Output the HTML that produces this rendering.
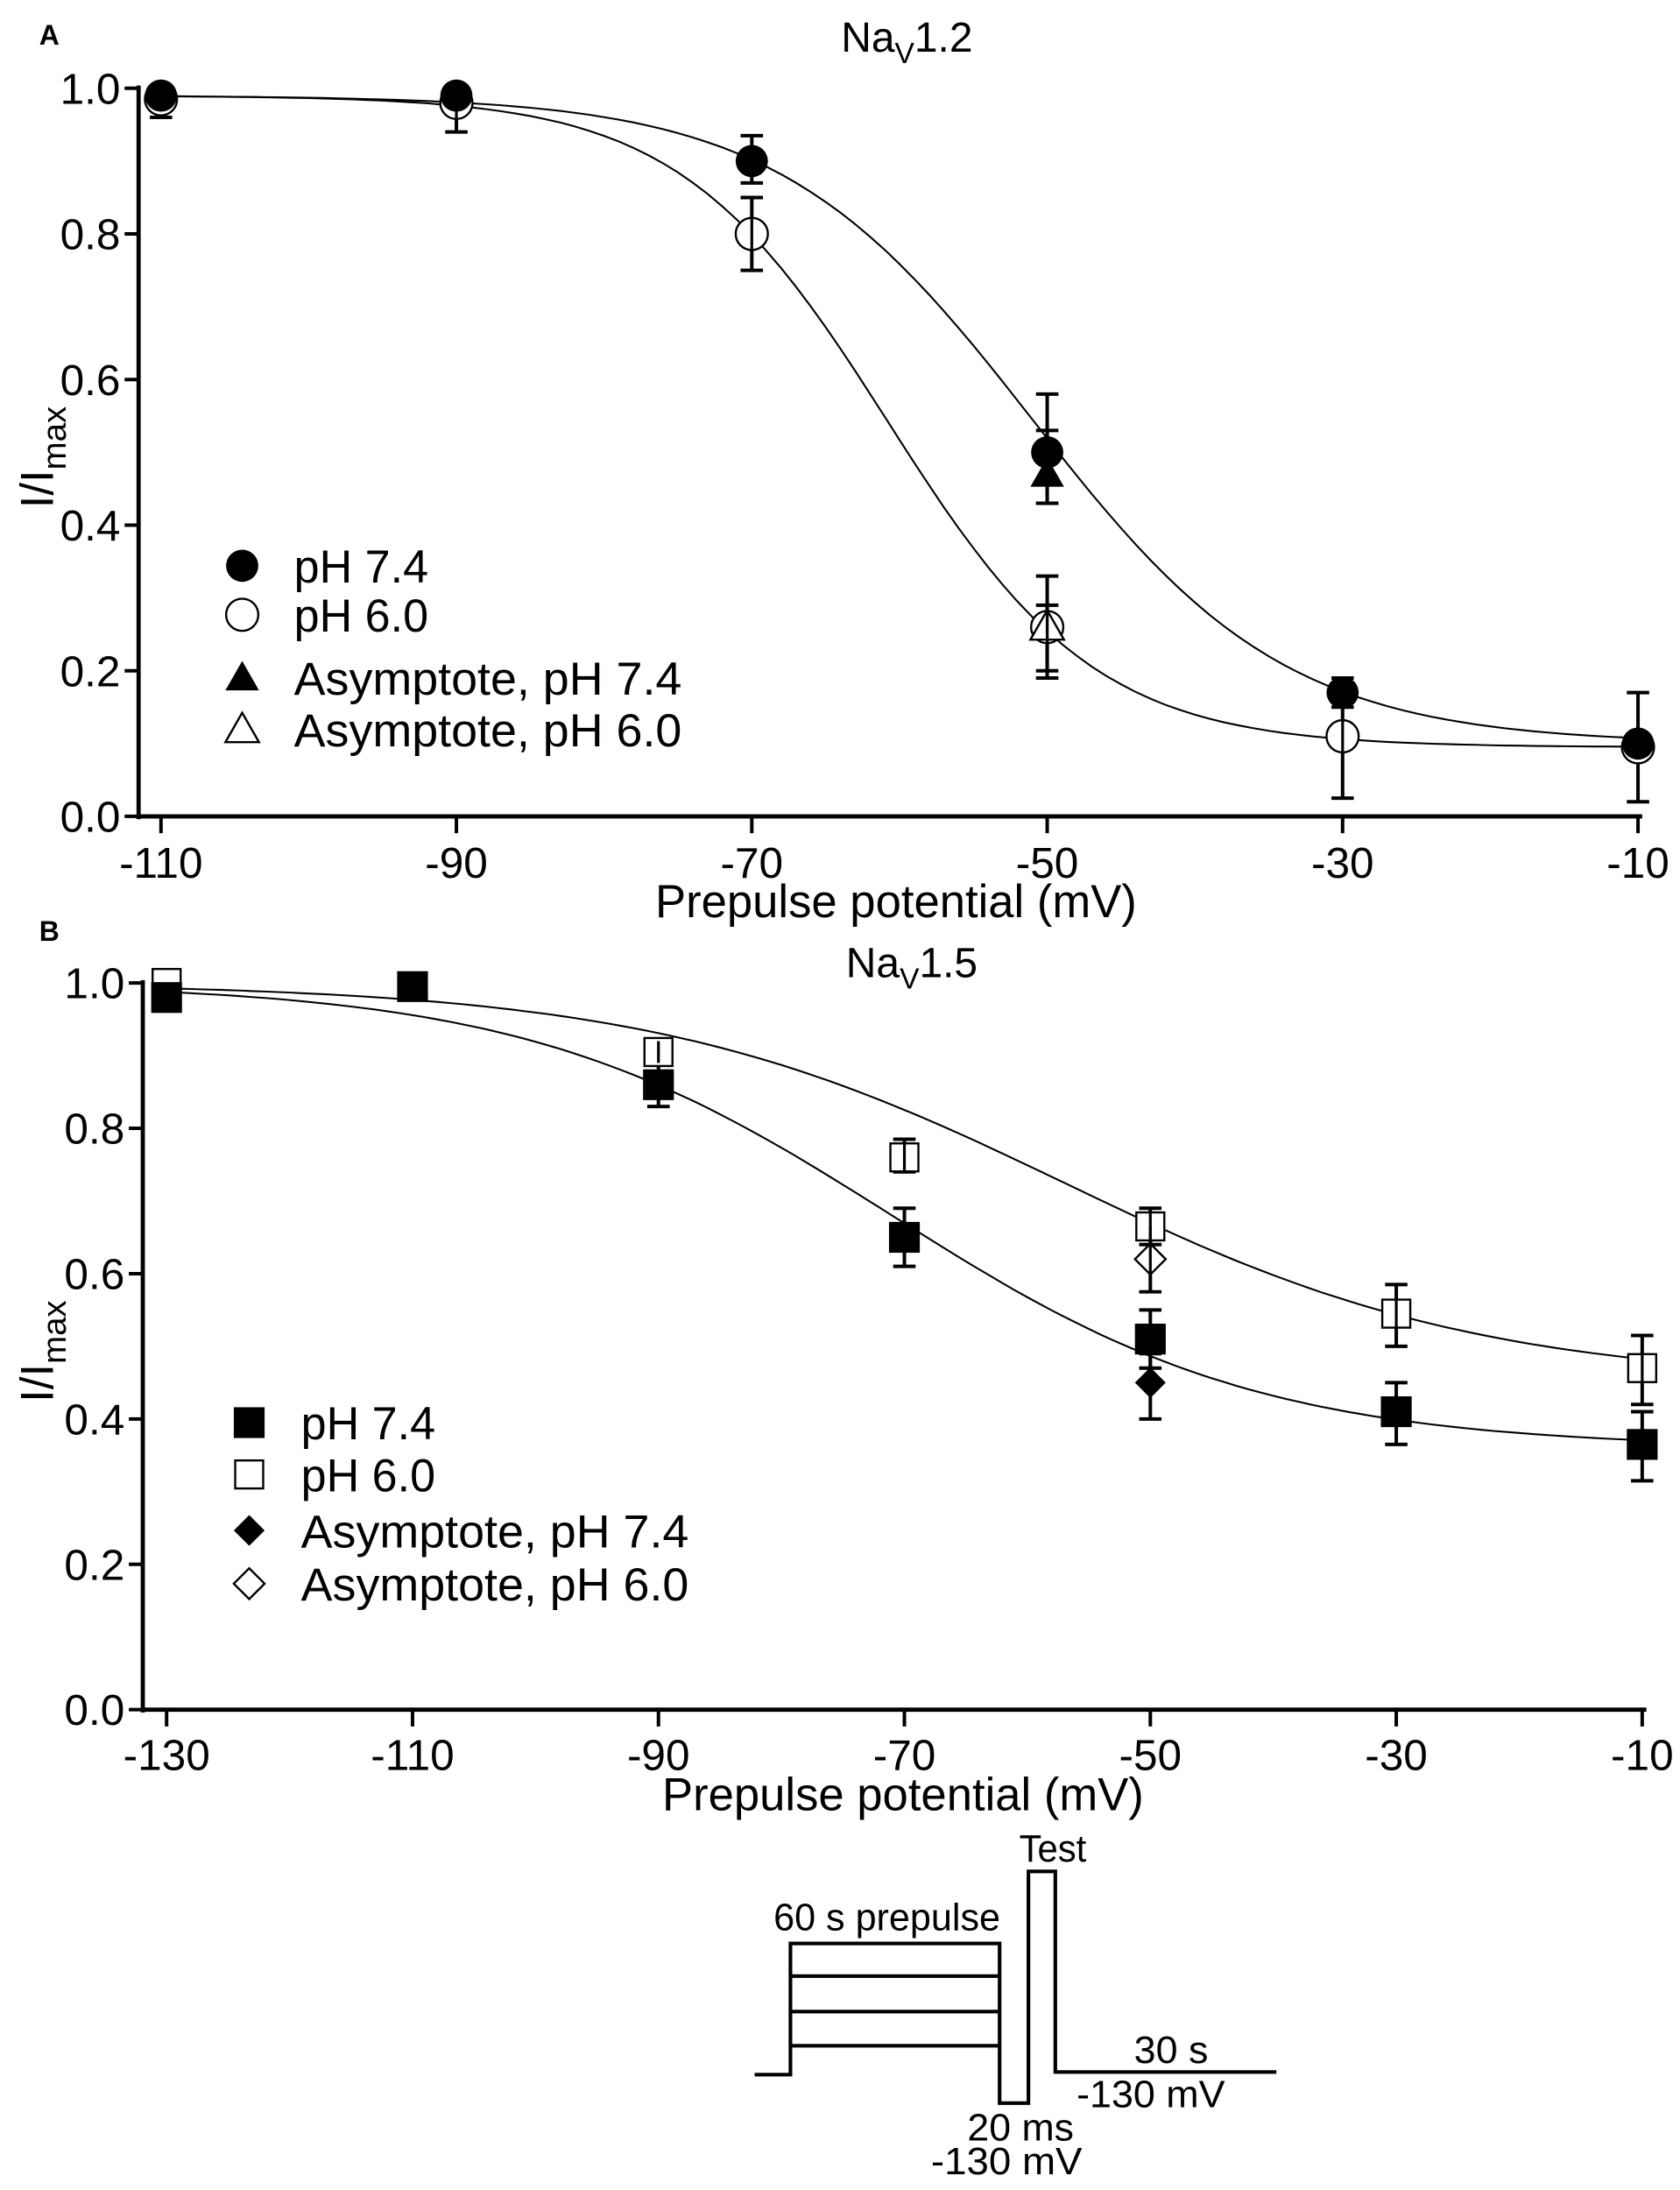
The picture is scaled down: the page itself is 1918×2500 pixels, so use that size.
<!DOCTYPE html>
<html><head><meta charset="utf-8"><style>
html,body{margin:0;padding:0;background:#fff;}
svg{display:block;}
text{font-family:"Liberation Sans",sans-serif;fill:#000;}
</style></head><body>
<svg id="s" width="1918" height="2500" viewBox="0 0 1200 1564" xmlns="http://www.w3.org/2000/svg">
<rect width="1200" height="1564" fill="#fff"/>
<g id="g"></g>
</svg>
<script>
var g=document.getElementById('g'),h='';
function L(x1,y1,x2,y2,w){h+='<line x1="'+x1+'" y1="'+y1+'" x2="'+x2+'" y2="'+y2+'" stroke="#000" stroke-width="'+(w||2.5)+'"/>';}
function T(x,y,s,sz,anc,extra){h+='<text x="'+x+'" y="'+y+'" font-size="'+sz+'" text-anchor="'+(anc||'start')+'" '+(extra||'')+'>'+s+'</text>';}
function TL(x,y,s,sz,len){T(x,y,s,sz,'start','textLength="'+len+'" lengthAdjust="spacingAndGlyphs"');}
function mk(type,x,y){
 var r=11.5;
 if(type=='fc')h+='<circle cx="'+x+'" cy="'+y+'" r="'+r+'" fill="#000"/>';
 if(type=='oc')h+='<circle cx="'+x+'" cy="'+y+'" r="'+r+'" fill="#fff" stroke="#000" stroke-width="1.5"/>';
 if(type=='ft')h+='<polygon points="'+x+','+(y-12)+' '+(x-12)+','+(y+9)+' '+(x+12)+','+(y+9)+'" fill="#000"/>';
 if(type=='ot')h+='<polygon points="'+x+','+(y-12)+' '+(x-12)+','+(y+9)+' '+(x+12)+','+(y+9)+'" fill="#fff" stroke="#000" stroke-width="1.5"/>';
 if(type=='fs')h+='<rect x="'+(x-11)+'" y="'+(y-11)+'" width="22" height="22" fill="#000"/>';
 if(type=='os')h+='<rect x="'+(x-10)+'" y="'+(y-10)+'" width="20" height="20" fill="#fff" stroke="#000" stroke-width="1.5"/>';
 if(type=='fd')h+='<polygon points="'+x+','+(y-11)+' '+(x+11)+','+y+' '+x+','+(y+11)+' '+(x-11)+','+y+'" fill="#000"/>';
 if(type=='od')h+='<polygon points="'+x+','+(y-11)+' '+(x+11)+','+y+' '+x+','+(y+11)+' '+(x-11)+','+y+'" fill="#fff" stroke="#000" stroke-width="1.5"/>';
}
function panel(P){
 var X=function(v){return P.x0+(v-P.vmin)*(P.x1-P.x0)/(P.vmax-P.vmin);};
 var Y=function(v){return P.y0-v*(P.y0-P.y1);};
 L(P.ax,P.y1-2,P.ax,P.y0+2,3);
 L(P.ax,P.xa,P.x1+3,P.xa,3);
 for(var i=0;i<=5;i++){var v=i*0.2,y=Y(v);L(P.ax-10,y,P.ax,y,2.5);T(P.ax-13,y+11,v.toFixed(1),31,'end');}
 for(var v=P.vmin;v<=P.vmax;v+=20){var x=X(v);L(x,P.xa,x,P.xa+12,2.5);T(x,P.xa+P.tl,String(v),31,'middle');}
 T(P.tx,P.xa+72,'Prepulse potential (mV)',33,'middle','textLength="344" lengthAdjust="spacingAndGlyphs"');
 T(P.x0+(P.x1-P.x0)*0.505,P.title,'Na<tspan font-size="21" dy="8">V</tspan><tspan dy="-8">'+P.tname+'</tspan>',30,'middle');
 T(28,P.letter,P.L,20,'start','font-weight="bold"');
 var cy=(P.y0+P.y1)/2;
 h+='<text transform="translate(38,'+(cy+40)+') rotate(-90)" font-size="33">I/I<tspan font-size="24" dy="9">max</tspan></text>';
 P.curves.forEach(function(c){var d='';for(var v=P.vmin;v<=P.vmax+0.01;v+=1){var f=c.b+(c.t-c.b)/(1+Math.exp((v-c.v)/c.k));d+=(d?'L':'M')+X(v).toFixed(1)+','+Y(f).toFixed(1);}h+='<path d="'+d+'" fill="none" stroke="#000" stroke-width="1.3"/>';});
 P.data.forEach(function(s){s.pts.forEach(function(p){var x=X(p[0]);if(p.length>2){L(x,Y(p[2]),x,Y(p[3]),2.5);L(x-8,Y(p[2]),x+8,Y(p[2]),2.5);L(x-8,Y(p[3]),x+8,Y(p[3]),2.5);}});});
 P.data.forEach(function(s){s.pts.forEach(function(p){mk(s.t,X(p[0]),Y(p[1]));});});
 P.data.forEach(function(s){s.pts.forEach(function(p){var x=X(p[0]);if(p.length>2&&s.t.charAt(0)=='o'){L(x,Y(p[2]),x,Y(p[3]),2);}});});
 P.leg.forEach(function(l,i){mk(l[0],P.lx,P.ly[i]);T(P.lx+37,P.ly[i]+12,l[1],33,'start',l[2]?'textLength="'+l[2]+'" lengthAdjust="spacingAndGlyphs"':'');});
}
panel({x0:115,x1:1170,vmin:-110,vmax:-10,y0:583,y1:63,ax:99,xa:583,title:37,tname:'1.2',L:'A',letter:32,tx:640,tl:44,
 curves:[{t:0.99,b:0.1,v:-51,k:8.6},{t:0.99,b:0.095,v:-60.8,k:7.06}],
 data:[
  {t:'oc',pts:[[-110,0.985],[-90,0.98,0.94,0.98],[-70,0.80,0.75,0.85],[-50,0.26,0.19,0.33],[-30,0.11,0.025,0.16],[-10,0.095]]},
  {t:'fc',pts:[[-110,0.99,0.96,0.99],[-90,0.99],[-70,0.90,0.87,0.935],[-50,0.50,0.43,0.58],[-30,0.17,0.15,0.19],[-10,0.10,0.02,0.17]]},
  {t:'ot',pts:[[-50,0.26,0.20,0.29]]},
  {t:'ft',pts:[[-50,0.47,0.43,0.53]]}
 ],
 lx:173,ly:[404,439,484,521],
 leg:[['fc','pH 7.4',96],['oc','pH 6.0',96],['ft','Asymptote, pH 7.4',277],['ot','Asymptote, pH 6.0',277]]
});
panel({x0:119,x1:1173,vmin:-130,vmax:-10,y0:1221,y1:702,ax:102,xa:1221,title:698,tname:'1.5',L:'B',letter:672,tx:645,tl:43,
 curves:[{t:1,b:0.36,v:-71,k:15},{t:1,b:0.45,v:-57,k:17}],
 data:[
  {t:'os',pts:[[-130,1.0],[-90,0.905,0.89,0.92],[-70,0.76,0.74,0.785],[-50,0.665,0.64,0.69],[-30,0.545,0.50,0.585],[-10,0.47,0.42,0.515]]},
  {t:'fs',pts:[[-130,0.98],[-110,0.995],[-90,0.86,0.83,0.89],[-70,0.65,0.61,0.69],[-50,0.51,0.47,0.55],[-30,0.41,0.365,0.45],[-10,0.365,0.315,0.41]]},
  {t:'fd',pts:[[-50,0.45,0.40,0.49]]},
  {t:'od',pts:[[-50,0.62,0.575,0.665]]}
 ],
 lx:178,ly:[1016,1053,1093,1131],
 leg:[['fs','pH 7.4',96],['os','pH 6.0',96],['fd','Asymptote, pH 7.4',277],['od','Asymptote, pH 6.0',277]]
});
h+='<path d="M539,1481.7 H564.6 V1388 H714 V1502 H734.6 V1336.5 H753.8 V1479.8 H911.7" fill="none" stroke="#000" stroke-width="2.6"/>';
[1411.3,1436.6,1461].forEach(function(y){L(564.6,y,714,y,2.6);});
TL(552.5,1378.5,'60 s prepulse',27,162);
TL(728,1329.6,'Test',27,48);
TL(810,1473.5,'30 s',27,53);
TL(769,1505,'-130 mV',27,106);
TL(691,1528.6,'20 ms',27,76);
TL(665,1552.8,'-130 mV',27,108);
g.innerHTML=h;
</script>
</body></html>
